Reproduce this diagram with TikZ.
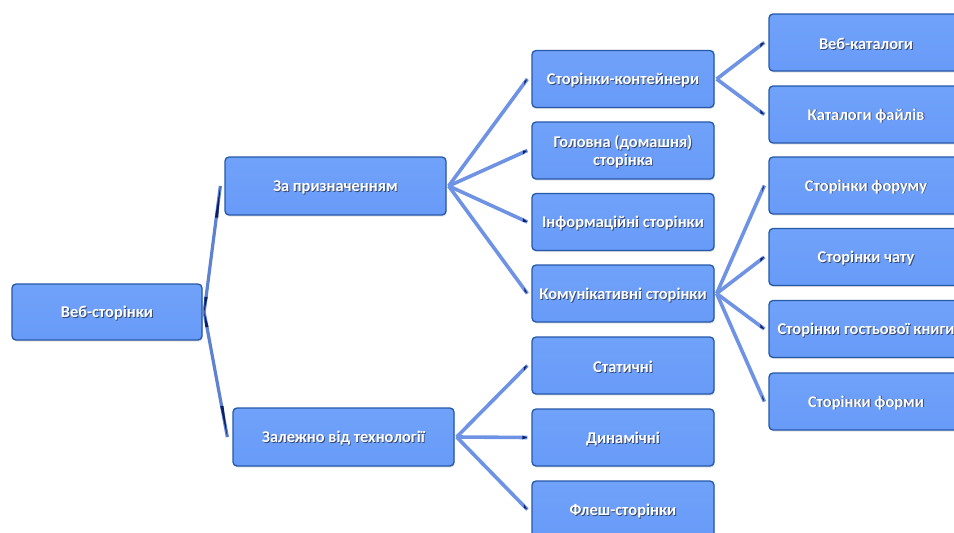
\documentclass[tikz,border=0pt]{standalone}
\usepackage{fontspec}
\setmainfont{Carlito}
\usetikzlibrary{calc,shadows}
\definecolor{boxfill}{RGB}{104,155,248}
\definecolor{boxtop}{RGB}{112,162,250}
\definecolor{boxedge}{RGB}{38,88,170}
\definecolor{connblue}{RGB}{110,146,228}
\definecolor{navy}{RGB}{12,30,100}
\definecolor{txtshadow}{RGB}{20,40,90}
\newcommand{\shtxt}[1]{\raisebox{-1.6pt}[\height][\depth]{\rlap{\kern0.9pt\raisebox{-0.9pt}{\textcolor{txtshadow!85}{#1}}}#1}}
\tikzset{
  boxnode/.style={draw=boxedge, line width=1.3pt, rounded corners=4pt,
    top color=boxtop, bottom color=boxfill, text=white,
    font=\bfseries\fontsize{16.4}{18.5}\selectfont, align=center, inner sep=0pt,
    drop shadow={opacity=0.22, shadow xshift=0.8pt, shadow yshift=-1.6pt}},
  conn/.style={draw=connblue, line width=3.6pt},
  rootconn/.style={draw=connblue!85!navy, line width=3.2pt},
  tipfill/.style={fill=navy},
}
\begin{document}
\begin{tikzpicture}[x=1pt,y=-1pt]
\clip (0,0) rectangle (954,533);
\fill[white] (0,0) rectangle (954,533);
% nodes
\node[boxnode, minimum width=190pt, minimum height=56pt] (root) at (107,312) {\shtxt{Веб-сторінки}};
\node[boxnode, minimum width=221pt, minimum height=58pt] (zp) at (335.5,186) {\shtxt{За призначенням}};
\node[boxnode, minimum width=221pt, minimum height=58pt] (zt) at (343.5,437) {\shtxt{Залежно від технології}};
\foreach \n/\y/\t in {sk/79/{\shtxt{Сторінки-контейнери}},
  gs/150.5/{\shtxt{Головна (домашня)}\\\shtxt{сторінка}},
  is/222/{\shtxt{Інформаційні сторінки}},
  ks/293.5/{\shtxt{Комунікативні сторінки}},
  st/365.5/{\shtxt{Статичні}},
  dn/437.5/{\shtxt{Динамічні}},
  fl/509.5/{\shtxt{Флеш-сторінки}}}
  \node[boxnode, minimum width=182pt, minimum height=57pt] (\n) at (623,\y) {\t};
\foreach \n/\y/\t in {wk/42.5/{\shtxt{Веб-каталоги}},
  kf/114.5/{\shtxt{Каталоги файлів}},
  sf/185.5/{\shtxt{Сторінки форуму}},
  sc/257/{\shtxt{Сторінки чату}},
  sg/329/{\shtxt{Сторінки гостьової книги}},
  sm/401.5/{\shtxt{Сторінки форми}}}
  \node[boxnode, minimum width=194pt, minimum height=57pt] (\n) at (866,\y) {\t};
% root connectors (tapered look)
\coordinate (rs) at ($(root.east)+(1.5,0)$);
\foreach \c/\dx in {zp/-4,zt/-5}{
  \coordinate (re) at ($(\c.west)+(\dx,0)$);
  \draw[rootconn] (rs) -- (re);
  \fill[tipfill] (re) -- ($(re)!0.25!(rs)+(1.9,0)$) -- ($(re)!0.25!(rs)+(-1.3,0)$) -- cycle;
  \fill[tipfill] (rs) -- ($(rs)!0.12!(re)+(1.6,0)$) -- ($(rs)!0.12!(re)+(-1.6,0)$) -- cycle;
}
% connectors between levels
\foreach \p/\c in {zp/sk,zp/gs,zp/is,zp/ks,zt/st,zt/dn,zt/fl,sk/wk,sk/kf,ks/sf,ks/sc,ks/sg,ks/sm}{
  \coordinate (s) at ($(\p.east)+(2,0)$);
  \coordinate (e) at ($(\c.west)+(-4,0)$);
  \draw[conn] (s) -- (e);
  \fill[tipfill] (e) -- ($(e)!5pt!(s)+(0,1.9)$) -- ($(e)!5pt!(s)+(0,-1.9)$) -- cycle;
}
\end{tikzpicture}
\end{document}
